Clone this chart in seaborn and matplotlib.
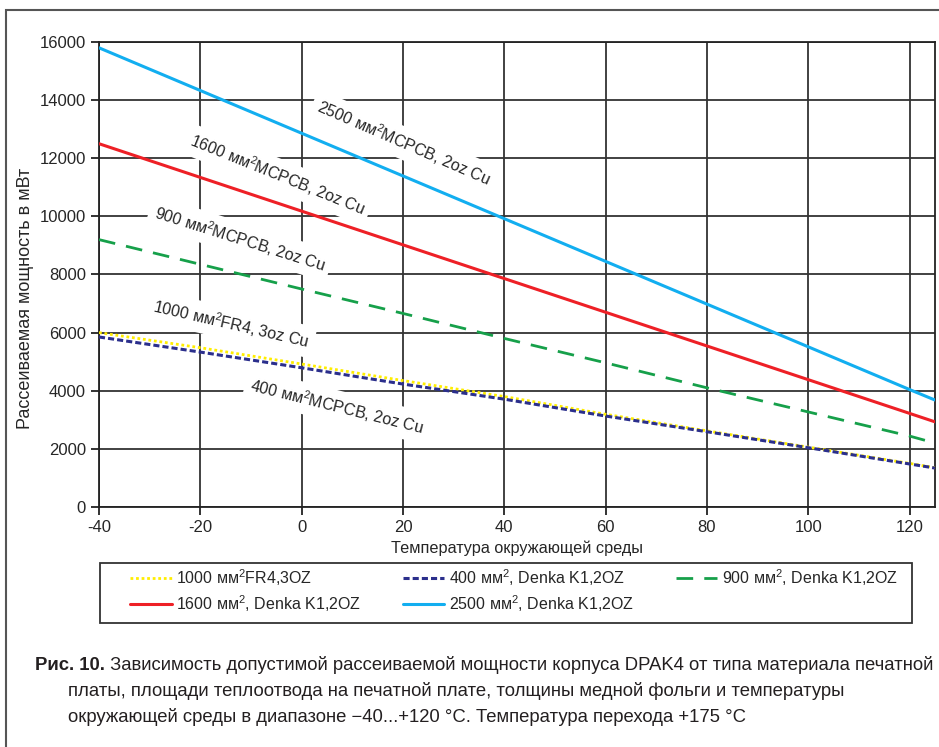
import matplotlib
matplotlib.use("Agg")
import matplotlib.pyplot as plt
import seaborn as sns
import pandas as pd
from matplotlib.patches import Rectangle

# Temperature grid (°C) and power readings (mW) per board type
temps = [-40, -20, 0, 20, 40, 60, 80, 100, 120, 125]
fr4_1000 = [6000, 5480, 4920, 4350, 3800, 3190, 2620, 2060, 1500, 1350]
denka_400 = [5850, 5330, 4790, 4230, 3710, 3130, 2590, 2040, 1480, 1340]
denka_900 = [9200, 8350, 7500, 6660, 5800, 4960, 4100, 3270, 2440, 2200]
denka_1600 = [12500, 11340, 10180, 9020, 7860, 6700, 5540, 4380, 3220, 2930]
denka_2500 = [15800, 14330, 12860, 11390, 9920, 8450, 6980, 5510, 4040, 3680]

legend_labels = [
    "1000 мм$^2$FR4,3OZ",
    "400 мм$^2$, Denka K1,2OZ",
    "900 мм$^2$, Denka K1,2OZ",
    "1600 мм$^2$, Denka K1,2OZ",
    "2500 мм$^2$, Denka K1,2OZ",
]
curve_labels = [
    "2500 мм$^2$MCPCB, 2oz Cu",
    "1600 мм$^2$MCPCB, 2oz Cu",
    "900 мм$^2$MCPCB, 2oz Cu",
    "1000 мм$^2$FR4, 3oz Cu",
    "400 мм$^2$MCPCB, 2oz Cu",
]
caption = [
    " Зависимость допустимой рассеиваемой мощности корпуса DPAK4 от типа материала печатной",
    "платы, площади теплоотвода на печатной плате, толщины медной фольги и температуры",
    "окружающей среды в диапазоне −40...+120 °С. Температура перехода +175 °С",
]

sns.set_style("white")
plt.rcParams["font.family"] = ["Liberation Sans", "DejaVu Sans"]
plt.rcParams["mathtext.fontset"] = "custom"
plt.rcParams["mathtext.rm"] = "Liberation Sans"
plt.rcParams["mathtext.it"] = "Liberation Sans:italic"
plt.rcParams["axes.unicode_minus"] = False

fig = plt.figure(figsize=(9.39, 7.47), dpi=100)
ax = fig.add_axes([0.1054, 0.3213, 0.8903, 0.6225])

series = [
    (fr4_1000, "#ffee00", (1, 1), 2.0),
    (denka_400, "#2b2f8c", (2, 1), 2.2),
    (denka_900, "#16a04a", (6, 4), 2.0),
    (denka_1600, "#ee2026", "", 2.2),
    (denka_2500, "#12aef0", "", 2.2),
]
handles = []
for (vals, color, dash, lw), lab in zip(series, legend_labels):
    df = pd.DataFrame({"t": temps, "p": vals})
    sns.lineplot(data=df, x="t", y="p", ax=ax, color=color, lw=lw, zorder=4)
    line = ax.lines[-1]
    if dash:
        line.set_dashes(dash)
    handles.append(line)

ax.set_xlim(-40, 125)
ax.set_ylim(0, 16000)
ax.set_xticks(range(-40, 121, 20))
ax.set_yticks(range(0, 16001, 2000))
ax.grid(True, color="#333333", lw=1.3)
ax.set_axisbelow(True)
for s in ax.spines.values():
    s.set_color("#222222")
    s.set_linewidth(1.3)
ax.tick_params(axis="both", labelsize=12, length=6, width=1.3, color="#222222",
               direction="out", bottom=True, left=True)
ax.set_xlabel("Температура окружающей среды", fontsize=11.7, labelpad=4)
ax.set_ylabel("Рассеиваемая мощность в мВт", fontsize=13)
ax.yaxis.set_label_coords(-0.078, 0.449)

# curve labels with white boxes hiding the grid
label_pos = [(20.1, 12520, -23.5), (-4.8, 11440, -22), (-12.2, 9240, -17.5),
             (-14.0, 6300, -13), (7.0, 3460, -14)]
for txt, (x, y, rot) in zip(curve_labels, label_pos):
    ax.text(x, y, txt, fontsize=11.5, rotation=rot, ha="center", va="center",
            rotation_mode="anchor", zorder=3,
            bbox=dict(facecolor="white", edgecolor="none", pad=4))

# legend: column-major order so rows read as in the reference
order = [0, 3, 1, 4, 2]
leg = fig.legend([handles[i] for i in order], [legend_labels[i] for i in order],
                 loc="upper left", bbox_to_anchor=(130 / 939, 1 - 567 / 747),
                 ncol=3, fontsize=11.5, frameon=False, borderpad=0,
                 borderaxespad=0, handlelength=2.6, handletextpad=0.3,
                 labelspacing=0.35, columnspacing=2.6)
fig.patches.append(Rectangle((100 / 939, 1 - 623 / 747), 812 / 939, 60 / 747,
                             transform=fig.transFigure, fill=False,
                             edgecolor="#333333", lw=1.3))

# outer frame
fig.patches.append(Rectangle((0.006, -0.01), 1.1, 0.997, transform=fig.transFigure,
                             fill=False, edgecolor="#555555", lw=1.5))

# caption
cap_font = ["Liberation Sans", "DejaVu Sans"]
bold = fig.text(0.037, 0.103, "Рис. 10.", fontsize=13.3, fontweight="bold",
                family=cap_font, color="#231f20", va="baseline")
ax.annotate(caption[0], xy=(1, 0), xycoords=bold, va="bottom", ha="left",
            fontsize=13.3, family=cap_font, color="#231f20", annotation_clip=False)
fig.text(0.0724, 0.068, caption[1], fontsize=13.3, family=cap_font,
         color="#231f20", va="baseline")
fig.text(0.0724, 0.033, caption[2], fontsize=13.3, family=cap_font,
         color="#231f20", va="baseline")

fig.savefig("out.png", dpi=100)
